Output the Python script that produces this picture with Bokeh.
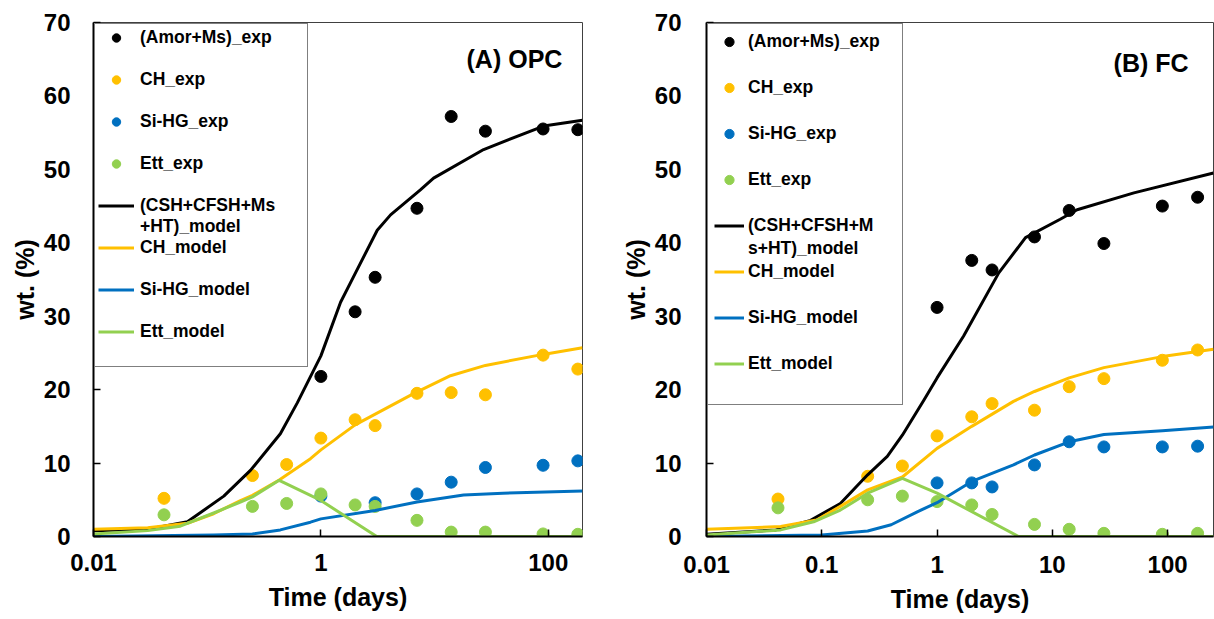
from bokeh.plotting import figure
from bokeh.models import (Range1d, FixedTicker, SingleIntervalTicker, CustomJSTickFormatter,
                          Legend, LegendItem, Label, ColumnDataSource)
from bokeh.layouts import row
from bokeh.core.properties import value
from bokeh.embed import file_html
from bokeh.resources import INLINE

# ---------------- data: (A) OPC ----------------
t_exp = [0.0417, 0.25, 0.5, 1, 2, 3, 7, 14, 28, 90, 182]

opc_amor_t = [1, 2, 3, 7, 14, 28, 90, 182]
opc_amor = [21.8, 30.6, 35.3, 44.7, 57.2, 55.2, 55.5, 55.4]
opc_ch = [5.2, 8.3, 9.8, 13.4, 15.9, 15.1, 19.5, 19.6, 19.3, 24.7, 22.8]
opc_sihg_t = [1, 3, 7, 14, 28, 90, 182]
opc_sihg = [5.5, 4.6, 5.8, 7.4, 9.4, 9.7, 10.3]
opc_ett = [2.95, 4.1, 4.5, 5.8, 4.3, 4.1, 2.2, 0.6, 0.6, 0.35, 0.3]

opc_m_amor_t = [0.01, 0.03, 0.067, 0.14, 0.24, 0.44, 0.62, 1.0, 1.49, 2.0, 3.13, 4.1, 7.5, 9.8, 27, 91, 200]
opc_m_amor = [0.8, 1.0, 2.0, 5.5, 9.0, 14.0, 18.2, 24.6, 31.9, 35.8, 41.7, 43.8, 47.2, 48.8, 52.7, 55.9, 56.7]
opc_m_ch_t = [0.01, 0.03, 0.067, 0.114, 0.196, 0.25, 0.43, 0.81, 1.0, 2.0, 6.6, 13.8, 28, 90, 200]
opc_m_ch = [1.0, 1.2, 1.8, 3.1, 4.9, 5.6, 7.7, 10.6, 11.8, 15.2, 19.5, 21.9, 23.3, 24.8, 25.7]
opc_m_sihg_t = [0.01, 0.114, 0.25, 0.44, 0.81, 1.0, 3.0, 7.0, 18, 40, 200]
opc_m_sihg = [0.0, 0.2, 0.35, 0.9, 1.95, 2.4, 3.55, 4.7, 5.65, 5.9, 6.2]
opc_m_ett_t = [0.01, 0.03, 0.058, 0.114, 0.196, 0.25, 0.43, 0.81, 1.0, 3.1, 200]
opc_m_ett = [0.35, 0.8, 1.4, 3.2, 4.7, 5.4, 7.65, 5.6, 4.9, 0.0, 0.0]

# ---------------- data: (B) FC ----------------
fc_amor_t = [1, 2, 3, 7, 14, 28, 90, 182]
fc_amor = [31.2, 37.6, 36.3, 40.8, 44.4, 39.9, 45.0, 46.2]
fc_ch = [5.1, 8.2, 9.6, 13.7, 16.3, 18.1, 17.2, 20.4, 21.5, 24.0, 25.4]
fc_sihg_t = [1, 2, 3, 7, 14, 28, 90, 182]
fc_sihg = [7.3, 7.3, 6.75, 9.75, 12.9, 12.2, 12.2, 12.3]
fc_ett = [3.9, 5.0, 5.5, 4.75, 4.3, 3.0, 1.65, 0.98, 0.43, 0.3, 0.43]

fc_m_amor_t = [0.01, 0.04, 0.08, 0.145, 0.2, 0.25, 0.37, 0.5, 0.77, 1.0, 1.7, 3.43, 5.85, 11.7, 16.4, 51, 250]
fc_m_amor = [0.3, 0.9, 2.2, 4.5, 6.8, 8.4, 10.9, 13.8, 18.6, 21.6, 27.3, 35.9, 40.7, 43.2, 44.5, 46.8, 49.5]
fc_m_ch_t = [0.01, 0.044, 0.09, 0.145, 0.25, 0.5, 1.0, 2.0, 4.6, 7, 14, 28, 90, 250]
fc_m_ch = [1.0, 1.35, 2.25, 4.1, 6.35, 8.1, 12.0, 15.0, 18.4, 19.75, 21.6, 23.0, 24.5, 25.5]
fc_m_sihg_t = [0.01, 0.1, 0.25, 0.4, 0.68, 1.0, 2.0, 4.6, 7, 14, 28, 90, 250]
fc_m_sihg = [0.0, 0.2, 0.75, 1.6, 3.4, 4.6, 7.5, 9.75, 11.1, 12.9, 13.9, 14.4, 14.9]
fc_m_ett_t = [0.01, 0.044, 0.085, 0.145, 0.25, 0.5, 1.0, 5.1, 250]
fc_m_ett = [0.2, 0.9, 2.0, 3.6, 5.9, 7.9, 5.9, 0.0, 0.0]

exp_labels = ["(Amor+Ms)_exp", "CH_exp", "Si-HG_exp", "Ett_exp"]
model_labels_opc = ["(CSH+CFSH+Ms", "+HT)_model", "CH_model", "Si-HG_model", "Ett_model"]
model_labels_fc = ["(CSH+CFSH+M", "s+HT)_model", "CH_model", "Si-HG_model", "Ett_model"]
x_ticks_opc = [0.01, 1, 100]
x_ticks_fc = [0.01, 0.1, 1, 10, 100]

COLORS = ["#000000", "#FFC000", "#0070C0", "#92D050"]
FONT = "Liberation Sans"


def make_panel(exp, models, model_labels, xmax, xticks, w, h, bl, br, bt, bb,
               ylab_standoff, xlab_standoff, xtitle_standoff, leg, tag, tag_xy):
    p = figure(x_axis_type="log", x_range=Range1d(0.01, xmax), y_range=Range1d(0, 70),
               width=w, height=h, min_border_left=bl, min_border_right=br,
               min_border_top=bt, min_border_bottom=bb, output_backend="svg",
               toolbar_location=None, background_fill_color="white", border_fill_color="white")
    p.xgrid.visible = False
    p.ygrid.visible = False
    p.outline_line_color = "#404040"
    p.outline_line_width = 1

    for ax in (p.xaxis[0], p.yaxis[0]):
        ax.axis_line_color = "black"
        ax.axis_line_width = 2
        ax.major_tick_in = 7
        ax.major_tick_out = 0
        ax.minor_tick_in = 0
        ax.minor_tick_out = 0
        ax.major_tick_line_color = "black"
        ax.major_tick_line_width = 1.5
        ax.major_label_text_font = FONT
        ax.major_label_text_font_style = "bold"
        ax.major_label_text_font_size = "24px"
        ax.major_label_text_color = "black"
        ax.axis_label_text_font = FONT
        ax.axis_label_text_font_style = "bold"
        ax.axis_label_text_font_size = "25px"
        ax.axis_label_text_color = "black"

    p.xaxis.ticker = FixedTicker(ticks=xticks, minor_ticks=[])
    p.xaxis.formatter = CustomJSTickFormatter(code="return tick.toString();")
    p.xaxis.axis_label = "Time (days)"
    p.xaxis.major_label_standoff = xlab_standoff
    p.xaxis.axis_label_standoff = xtitle_standoff

    p.yaxis.ticker = SingleIntervalTicker(interval=10, num_minor_ticks=0)
    p.yaxis.axis_label = "wt. (%)"
    p.yaxis.major_label_standoff = ylab_standoff
    p.yaxis.axis_label_standoff = 2

    rs = []
    for (tx, vy), c in zip(exp, COLORS):
        rs.append(p.scatter(tx, vy, size=12, fill_color=c, line_color=c))
    rl = []
    for (tx, vy), c in zip(models, COLORS):
        rl.append(p.line(tx, vy, line_color=c, line_width=3, line_join="round"))
    dummy = p.scatter(x="x", y="y", source=ColumnDataSource(dict(x=[], y=[])),
                      fill_alpha=0, line_alpha=0)

    entries = [
        (exp_labels[0], rs[0]), ("", dummy),
        (exp_labels[1], rs[1]), ("", dummy),
        (exp_labels[2], rs[2]), ("", dummy),
        (exp_labels[3], rs[3]), ("", dummy),
        (model_labels[0], rl[0]), (model_labels[1], dummy),
        (model_labels[2], rl[1]), ("", dummy),
        (model_labels[3], rl[2]), ("", dummy),
        (model_labels[4], rl[3]), ("", dummy),
    ]
    items = [LegendItem(label=value(lbl), renderers=[r]) for lbl, r in entries]
    pad, lh, lw, std, mg, gw = leg
    legend = Legend(items=items, location="top_left", padding=pad, spacing=0, margin=mg,
                    label_height=lh, glyph_height=lh, glyph_width=gw, label_standoff=std,
                    label_width=lw, border_line_color="black", border_line_width=1,
                    background_fill_color="white", background_fill_alpha=1.0,
                    label_text_font=FONT, label_text_font_style="bold",
                    label_text_font_size="17.5px", label_text_line_height=1.0,
                    label_text_color="black")
    p.add_layout(legend)

    p.add_layout(Label(x=tag_xy[0], y=tag_xy[1], text=tag, text_align="right",
                       text_baseline="middle", text_font=FONT, text_font_style="bold",
                       text_font_size="25px", text_color="black"))
    return p


p1 = make_panel(
    exp=[(opc_amor_t, opc_amor), (t_exp, opc_ch), (opc_sihg_t, opc_sihg), (t_exp, opc_ett)],
    models=[(opc_m_amor_t, opc_m_amor), (opc_m_ch_t, opc_m_ch),
            (opc_m_sihg_t, opc_m_sihg), (opc_m_ett_t, opc_m_ett)],
    model_labels=model_labels_opc, xmax=200, xticks=x_ticks_opc,
    w=600, h=619, bl=93, br=18, bt=22, bb=83, ylab_standoff=23, xlab_standoff=17,
    xtitle_standoff=9, leg=(3, 21, 164, 6, 1, 36), tag="(A) OPC", tag_xy=(133, 65.0))

p2 = make_panel(
    exp=[(fc_amor_t, fc_amor), (t_exp, fc_ch), (fc_sihg_t, fc_sihg), (t_exp, fc_ett)],
    models=[(fc_m_amor_t, fc_m_amor), (fc_m_ch_t, fc_m_ch),
            (fc_m_sihg_t, fc_m_sihg), (fc_m_ett_t, fc_m_ett)],
    model_labels=model_labels_fc, xmax=250, xticks=x_ticks_fc,
    w=614, h=619, bl=106, br=1, bt=22, bb=83, ylab_standoff=25, xlab_standoff=19,
    xtitle_standoff=9, leg=(6, 23, 148, 4, 1, 30), tag="(B) FC", tag_xy=(152, 64.5))

layout = row(p1, p2)
open("out.html", "w").write(file_html(layout, INLINE))
